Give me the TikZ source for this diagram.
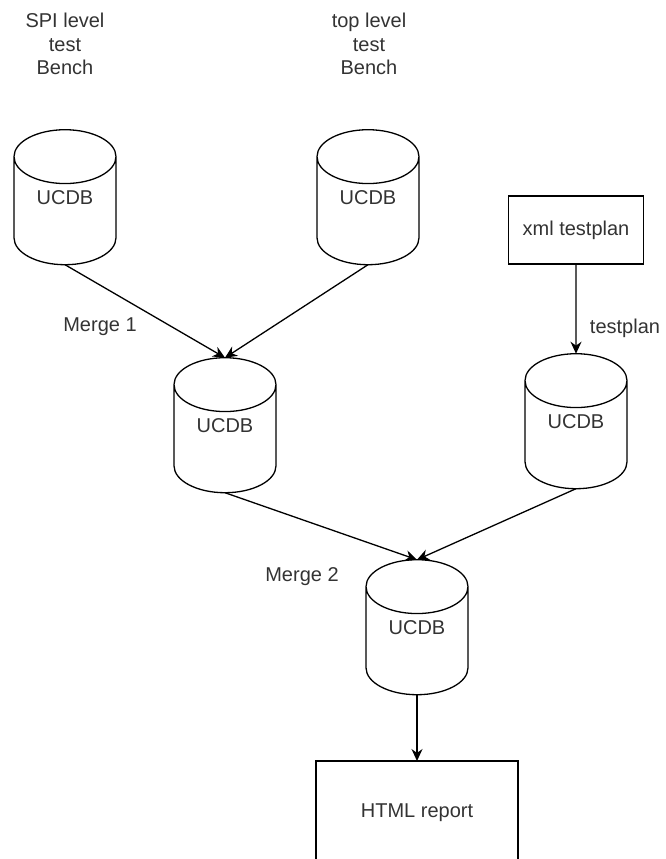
\documentclass[tikz,border=0pt]{standalone}
\usepackage{fontspec}
\setmainfont{Liberation Sans}
\usetikzlibrary{shapes.geometric,arrows.meta}
\tikzset{
  db/.style={draw,line width=1.3pt,cylinder,shape border rotate=90,aspect=0.95,
    minimum width=102pt,minimum height=135pt,inner sep=0pt,outer sep=0pt,
    text depth=26pt,text=black!80,font=\fontsize{20}{22}\selectfont},
  box/.style={draw,line width=1.3pt,inner sep=0pt,outer sep=0pt,
    text=black!80,font=\fontsize{20}{22}\selectfont},
  lbl/.style={text=black!80,font=\fontsize{20}{23.5}\selectfont,align=center},
  link/.style={line width=1.3pt,-{Stealth[length=12pt,width=11pt]}}
}
\begin{document}
\begin{tikzpicture}[x=1pt,y=-1pt]
\useasboundingbox (0,0) rectangle (665,859);
\node[lbl] (spi) at (65,44) {SPI level\\test\\Bench};
\node[lbl] (top) at (369,44) {top level\\test\\Bench};
\node[db] (ucdbA) at (65,211) {UCDB};
\node[db] (ucdbB) at (368,211) {UCDB};
\node[db] (ucdbM) at (225,439) {UCDB};
\node[db] (ucdbT) at (576,435) {UCDB};
\node[db] (ucdbF) at (417,641) {UCDB};
\node[box,minimum width=135pt,minimum height=68pt] (xml) at (576,230) {xml testplan};
\node[box,minimum width=202pt,minimum height=104pt] (html) at (417,813) {HTML report};
\node[lbl] (mergeA) at (100,327) {Merge 1};
\node[lbl] (mergeB) at (302,577) {Merge 2};
\draw[link] (ucdbA.south) -- (ucdbM.north);
\draw[link] (ucdbB.south) -- (ucdbM.north);
\draw[link] (xml) -- node[lbl,right,pos=0.72,xshift=10pt] {testplan} (ucdbT.north);
\draw[link] (ucdbM.south) -- (ucdbF.north);
\draw[link] (ucdbT.south) -- (ucdbF.north);
\draw[link] (ucdbF) -- (html);
\end{tikzpicture}
\end{document}
